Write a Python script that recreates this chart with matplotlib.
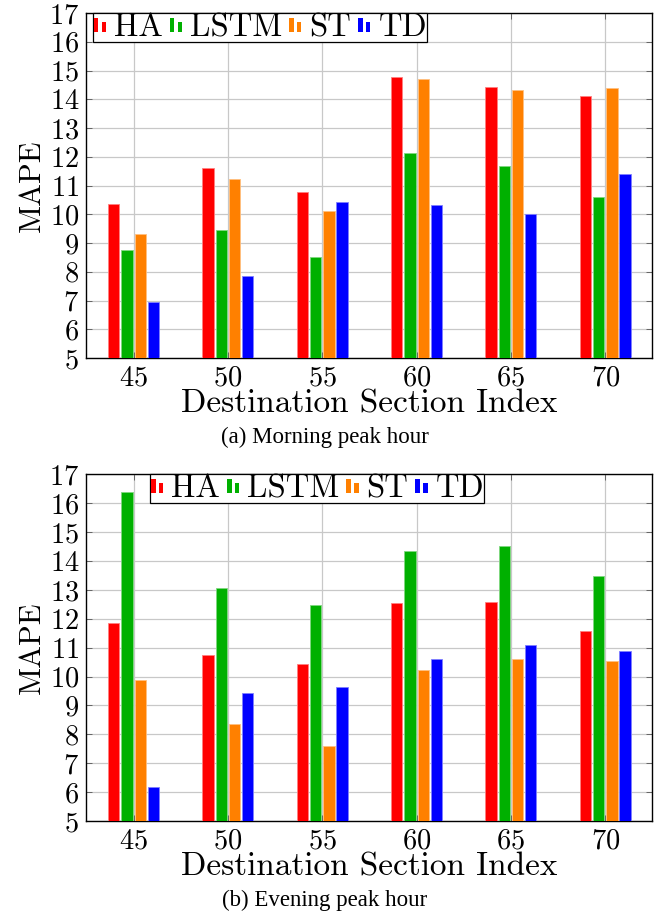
import numpy as np
import matplotlib
matplotlib.use("Agg")
import matplotlib.pyplot as plt
from matplotlib.patches import Rectangle
from matplotlib.legend_handler import HandlerBase

plt.rcParams['axes.formatter.use_mathtext'] = True

sections = [45, 50, 55, 60, 65, 70]
methods = ["HA", "LSTM", "ST", "TD"]

morning_ha = [10.37, 11.61, 10.77, 14.77, 14.42, 14.12]
morning_lstm = [8.75, 9.45, 8.52, 12.12, 11.68, 10.60]
morning_st = [9.33, 11.22, 10.10, 14.71, 14.32, 14.41]
morning_td = [6.94, 7.84, 10.42, 10.31, 10.01, 11.41]

evening_ha = [11.86, 10.74, 10.43, 12.54, 12.59, 11.57]
evening_lstm = [16.38, 13.07, 12.47, 14.36, 14.52, 13.49]
evening_st = [9.88, 8.36, 7.59, 10.21, 10.62, 10.55]
evening_td = [6.18, 9.42, 9.63, 10.60, 11.08, 10.89]

colors = ["#FF0000", "#00B000", "#FF8000", "#0000FF"]
edges = ["#FF8080", "#80D880", "#FFC080", "#8080FF"]

CM = "cmr10"


class TwoBarHandler(HandlerBase):
    def create_artists(self, legend, orig_handle, xdescent, ydescent,
                       width, height, fontsize, trans):
        fc = orig_handle.get_facecolor()
        w = width * 0.3
        r1 = Rectangle((width * 0.08, -ydescent + height * 0.05), w, height * 0.85,
                       facecolor=fc, edgecolor='none', transform=trans)
        r2 = Rectangle((width * 0.08 + w + width * 0.22, -ydescent + height * 0.05), w, height * 0.62,
                       facecolor=fc, edgecolor='none', transform=trans)
        return [r1, r2]


fig = plt.figure(figsize=(6.62, 9.15), dpi=100)
ax1 = fig.add_axes([0.130, 0.6087, 0.855, 0.377])
ax2 = fig.add_axes([0.130, 0.1027, 0.855, 0.379])

offsets = [-1.05, -0.35, 0.35, 1.05]
bw = 0.6


def draw(ax, series, legend_anchor):
    x = np.array(sections, dtype=float)
    handles = []
    for s, off, c, e, name in zip(series, offsets, colors, edges, methods):
        vals = np.array(s)
        b = ax.bar(x + off, vals - 5, bottom=5, width=bw, color=c, edgecolor=e,
                   linewidth=0.6, label=name, zorder=3)
        handles.append(b.patches[0])
    ax.set_xlim(42.48, 72.48)
    ax.set_ylim(5, 17)
    ax.set_xticks(sections)
    ax.set_yticks(range(5, 18))
    ax.grid(True, color="#c8c8c8", linewidth=0.9, zorder=0)
    ax.set_axisbelow(True)
    ax.tick_params(direction='in', top=True, right=True, length=4, width=0.6,
                   colors='#555555', labelcolor='black', labelsize=20.5, pad=5)
    for lab in ax.get_xticklabels() + ax.get_yticklabels():
        lab.set_fontfamily(CM)
    for sp in ax.spines.values():
        sp.set_linewidth(1.0)
        sp.set_color('black')
    ax.set_xlabel("Destination Section Index", fontfamily=CM, fontsize=24, labelpad=-1)
    ax.set_ylabel("MAPE", fontfamily=CM, fontsize=22, labelpad=2)
    leg = ax.legend(handles, methods, loc='upper left', bbox_to_anchor=legend_anchor,
                    ncol=4, frameon=True, fancybox=False, framealpha=1,
                    edgecolor='black', handler_map={Rectangle: TwoBarHandler()},
                    prop={'family': CM, 'size': 23.5}, handlelength=0.45,
                    handleheight=0.4, handletextpad=0.2, columnspacing=0.18,
                    borderpad=0.0, borderaxespad=0.0)
    leg.get_frame().set_linewidth(0.9)
    leg.set_zorder(5)


draw(ax1, [morning_ha, morning_lstm, morning_st, morning_td], (0.012, 1.0))
draw(ax2, [evening_ha, evening_lstm, evening_st, evening_td], (0.113, 1.0))

fig.text(0.491, 1 - 437 / 915, "(a) Morning peak hour", ha='center', va='center',
         fontfamily='Liberation Serif', fontsize=16.5)
fig.text(0.491, 1 - 900 / 915, "(b) Evening peak hour", ha='center', va='center',
         fontfamily='Liberation Serif', fontsize=16.5)

fig.savefig("out.png", dpi=100)
